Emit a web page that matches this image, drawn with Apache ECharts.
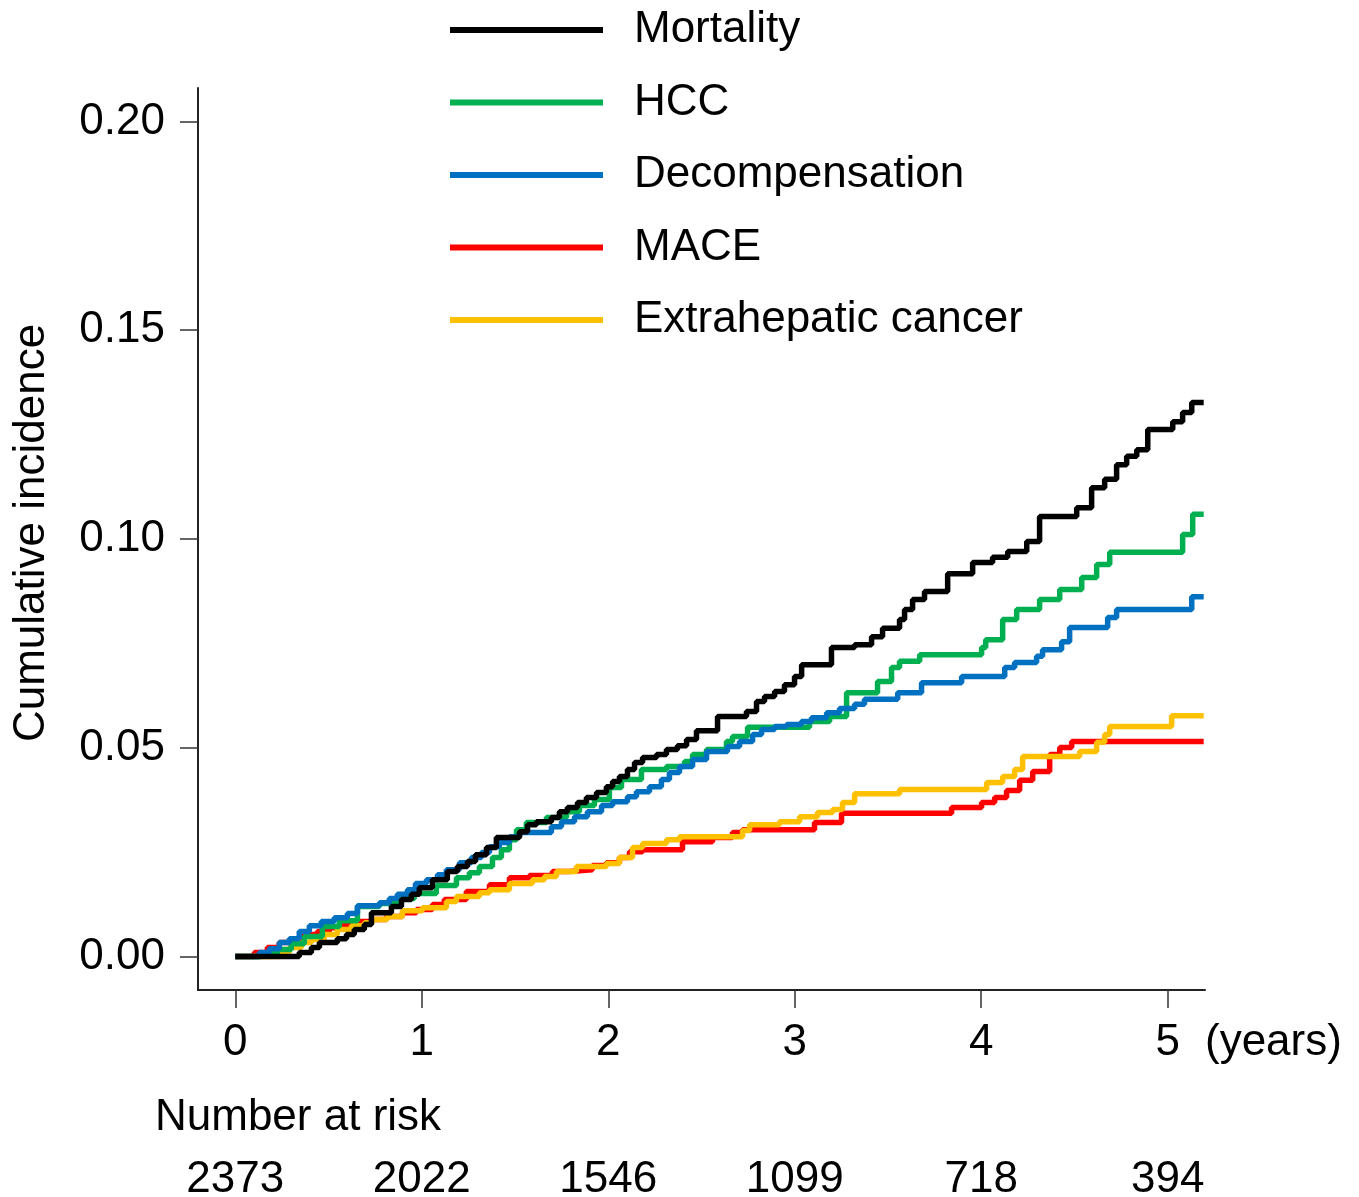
<!DOCTYPE html>
<html>
<head>
<meta charset="utf-8">
<script src="https://cdn.jsdelivr.net/npm/echarts@6/dist/echarts.min.js"></script>
<style>
  html, body { margin: 0; padding: 0; background: #fff; }
  #chart { width: 1359px; height: 1197px; }
</style>
</head>
<body>
<div id="chart"></div>
<script>
// ---- data (time in years, cumulative incidence) ----
const seriesNames = ['Mortality', 'HCC', 'Decompensation', 'MACE', 'Extrahepatic cancer'];
const xTicks = [0, 1, 2, 3, 4, 5];
const yTicks = [0, 0.05, 0.10, 0.15, 0.20];
const riskCounts = [2373, 2022, 1546, 1099, 718, 394];

const mortality = [
  [0,0],[0.343,0.0010],[0.408,0.0022],[0.451,0.0034],[0.547,0.0043],[0.596,0.0053],[0.638,0.0065],
  [0.692,0.0077],[0.730,0.0105],[0.837,0.0120],[0.891,0.0137],[0.944,0.0149],[0.987,0.0165],
  [1.057,0.0184],[1.137,0.0204],[1.191,0.0216],[1.245,0.0228],[1.288,0.0244],[1.347,0.0261],
  [1.400,0.0285],[1.524,0.0299],[1.567,0.0316],[1.615,0.0323],[1.695,0.0333],[1.738,0.0347],
  [1.781,0.0357],[1.835,0.0369],[1.883,0.0381],[1.937,0.0393],[1.990,0.0407],[2.023,0.0419],
  [2.060,0.0431],[2.103,0.0448],[2.141,0.0465],[2.184,0.0477],[2.259,0.0484],[2.312,0.0496],
  [2.371,0.0505],[2.420,0.0520],[2.473,0.0541],[2.586,0.0575],[2.741,0.0587],[2.795,0.0611],
  [2.838,0.0623],[2.892,0.0635],[2.945,0.0651],[2.999,0.0671],[3.037,0.0699],[3.197,0.0740],
  [3.321,0.0747],[3.412,0.0766],[3.471,0.0786],[3.562,0.0807],[3.589,0.0831],[3.632,0.0855],
  [3.696,0.0874],[3.820,0.0917],[3.954,0.0944],[4.061,0.0956],[4.142,0.0970],[4.244,0.0994],
  [4.313,0.1054],[4.512,0.1075],[4.592,0.1123],[4.662,0.1143],[4.726,0.1178],[4.780,0.1198],
  [4.834,0.1214],[4.893,0.1262],[5.027,0.1281],[5.080,0.1303],[5.129,0.1327],[5.193,0.1327]
];
const hcc = [
  [0,0],[0.139,0.0007],[0.225,0.0017],[0.300,0.0031],[0.370,0.0048],[0.467,0.0072],[0.558,0.0086],
  [0.655,0.0120],[0.773,0.0127],[0.880,0.0139],[0.960,0.0151],[1.078,0.0170],[1.186,0.0189],
  [1.255,0.0201],[1.309,0.0216],[1.379,0.0237],[1.427,0.0256],[1.470,0.0280],[1.508,0.0304],
  [1.561,0.0321],[1.668,0.0333],[1.776,0.0347],[1.845,0.0362],[1.926,0.0376],[2.006,0.0405],
  [2.071,0.0424],[2.178,0.0448],[2.312,0.0455],[2.409,0.0467],[2.452,0.0484],[2.527,0.0496],
  [2.634,0.0515],[2.666,0.0527],[2.747,0.0549],[3.079,0.0563],[3.187,0.0575],[3.278,0.0632],
  [3.444,0.0659],[3.519,0.0692],[3.562,0.0707],[3.670,0.0723],[4.002,0.0740],[4.024,0.0759],
  [4.115,0.0807],[4.190,0.0831],[4.313,0.0855],[4.421,0.0879],[4.539,0.0908],[4.619,0.0939],
  [4.689,0.0968],[5.080,0.1011],[5.134,0.1059],[5.193,0.1059]
];
const decompensation = [
  [0,0],[0.129,0.0010],[0.182,0.0019],[0.236,0.0034],[0.290,0.0043],[0.343,0.0060],[0.397,0.0074],
  [0.461,0.0084],[0.531,0.0093],[0.601,0.0103],[0.655,0.0122],[0.773,0.0129],[0.826,0.0139],
  [0.869,0.0149],[0.923,0.0160],[0.966,0.0175],[1.025,0.0184],[1.084,0.0196],[1.132,0.0208],
  [1.202,0.0225],[1.266,0.0237],[1.320,0.0249],[1.363,0.0263],[1.416,0.0273],[1.470,0.0287],
  [1.524,0.0297],[1.695,0.0311],[1.749,0.0323],[1.819,0.0335],[1.888,0.0347],[1.964,0.0362],
  [2.023,0.0371],[2.103,0.0383],[2.151,0.0395],[2.221,0.0407],[2.285,0.0424],[2.328,0.0441],
  [2.382,0.0455],[2.452,0.0472],[2.527,0.0491],[2.639,0.0503],[2.704,0.0515],[2.774,0.0532],
  [2.822,0.0544],[2.892,0.0551],[2.956,0.0556],[3.036,0.0563],[3.090,0.0572],[3.171,0.0584],
  [3.240,0.0594],[3.321,0.0604],[3.374,0.0616],[3.552,0.0632],[3.680,0.0656],[3.895,0.0671],
  [4.126,0.0692],[4.179,0.0704],[4.297,0.0719],[4.329,0.0735],[4.431,0.0754],[4.474,0.0788],
  [4.678,0.0812],[4.726,0.0831],[5.129,0.0862],[5.193,0.0862]
];
const mace = [
  [0,0],[0.102,0.0010],[0.172,0.0022],[0.236,0.0034],[0.317,0.0043],[0.370,0.0053],[0.440,0.0060],
  [0.504,0.0069],[0.574,0.0077],[0.649,0.0084],[0.735,0.0089],[0.810,0.0096],[0.896,0.0105],
  [0.971,0.0113],[1.057,0.0125],[1.121,0.0137],[1.239,0.0156],[1.363,0.0172],[1.470,0.0189],
  [1.577,0.0194],[1.701,0.0204],[1.792,0.0208],[1.915,0.0218],[1.990,0.0225],[2.060,0.0237],
  [2.114,0.0251],[2.184,0.0256],[2.398,0.0275],[2.559,0.0285],[2.666,0.0297],[2.720,0.0304],
  [3.106,0.0321],[3.251,0.0343],[3.841,0.0357],[4.002,0.0369],[4.072,0.0381],[4.136,0.0398],
  [4.206,0.0422],[4.276,0.0443],[4.367,0.0484],[4.421,0.0501],[4.485,0.0515],[5.193,0.0515]
];
const extrahepatic = [
  [0,0],[0.236,0.0010],[0.290,0.0022],[0.354,0.0034],[0.408,0.0041],[0.477,0.0053],[0.547,0.0065],
  [0.622,0.0074],[0.692,0.0081],[0.735,0.0089],[0.815,0.0096],[0.896,0.0110],[1.003,0.0117],
  [1.132,0.0132],[1.186,0.0144],[1.309,0.0153],[1.363,0.0160],[1.470,0.0175],[1.593,0.0184],
  [1.658,0.0192],[1.722,0.0204],[1.829,0.0216],[1.990,0.0223],[2.060,0.0237],[2.130,0.0261],
  [2.184,0.0271],[2.312,0.0280],[2.382,0.0287],[2.720,0.0302],[2.758,0.0316],[2.918,0.0323],
  [3.026,0.0335],[3.122,0.0345],[3.203,0.0352],[3.256,0.0369],[3.321,0.0390],[3.562,0.0400],
  [4.029,0.0417],[4.115,0.0431],[4.179,0.0448],[4.222,0.0479],[4.528,0.0491],[4.619,0.0513],
  [4.662,0.0532],[4.689,0.0551],[5.021,0.0577],[5.193,0.0577]
];

const seriesData = [mortality, hcc, decompensation, mace, extrahepatic];
const seriesColors = ['#000000', '#00b050', '#0070c0', '#ff0000', '#ffc000'];
const seriesZ = [6, 4, 5, 2, 3];

const FONT = '"Liberation Sans", Arial, Helvetica, sans-serif';
const chart = echarts.init(document.getElementById('chart'), null, { renderer: 'canvas' });

const option = {
  animation: false,
  backgroundColor: '#ffffff',
  grid: { left: 198, top: 88, width: 1007, height: 902, containLabel: false, outerBoundsMode: 'none' },
  legend: {
    orient: 'vertical',
    left: 450,
    top: 5,
    padding: 0,
    icon: 'rect',
    itemWidth: 153,
    itemHeight: 6,
    itemGap: 22.5,
    data: seriesNames,
    selectedMode: false,
    textStyle: { fontFamily: FONT, fontSize: 44, color: '#000', lineHeight: 50, padding: [0, 0, 0, 26] }
  },
  xAxis: [{
    type: 'value',
    min: -0.2,
    max: 5.2,
    axisLine: { show: true, onZero: false, lineStyle: { color: '#222', width: 2 } },
    axisTick: { show: true, length: 18, customValues: xTicks, lineStyle: { color: '#333', width: 1.5 } },
    axisLabel: {
      customValues: xTicks, margin: 53, verticalAlign: 'middle',
      fontFamily: FONT, fontSize: 44, color: '#000',
      formatter: v => String(Math.round(v))
    },
    splitLine: { show: false }
  }, {
    type: 'value',
    position: 'bottom',
    min: -0.2,
    max: 5.2,
    axisLine: { show: false, onZero: false },
    axisTick: { show: false },
    axisLabel: {
      customValues: xTicks, margin: 190, verticalAlign: 'middle',
      fontFamily: FONT, fontSize: 44, color: '#000',
      formatter: v => String(riskCounts[xTicks.indexOf(Math.round(v))])
    },
    splitLine: { show: false }
  }],
  yAxis: {
    type: 'value',
    min: -0.008,
    max: 0.208,
    axisLine: { show: true, onZero: false, lineStyle: { color: '#222', width: 2 } },
    axisTick: { show: true, length: 18, customValues: yTicks, lineStyle: { color: '#333', width: 1.5 } },
    axisLabel: {
      customValues: yTicks, margin: 33,
      fontFamily: FONT, fontSize: 44, color: '#000',
      formatter: v => v.toFixed(2)
    },
    splitLine: { show: false }
  },
  graphic: [
    { type: 'text', x: 32, y: 533, rotation: Math.PI / 2,
      style: { text: 'Cumulative incidence', font: '44px ' + FONT, fill: '#000', align: 'center', verticalAlign: 'middle' } },
    { type: 'text', x: 1205, y: 1043,
      style: { text: '(years)', font: '44px ' + FONT, fill: '#000', align: 'left', verticalAlign: 'middle' } },
    { type: 'text', x: 155, y: 1118,
      style: { text: 'Number at risk', font: '44px ' + FONT, fill: '#000', align: 'left', verticalAlign: 'middle' } }
  ],
  series: seriesNames.map((name, i) => ({
    name: name,
    type: 'line',
    step: 'end',
    xAxisIndex: 0,
    symbol: 'none',
    z: seriesZ[i],
    color: seriesColors[i],
    lineStyle: { color: seriesColors[i], width: 5.5 },
    data: seriesData[i]
  }))
};
chart.setOption(option);
</script>
</body>
</html>
